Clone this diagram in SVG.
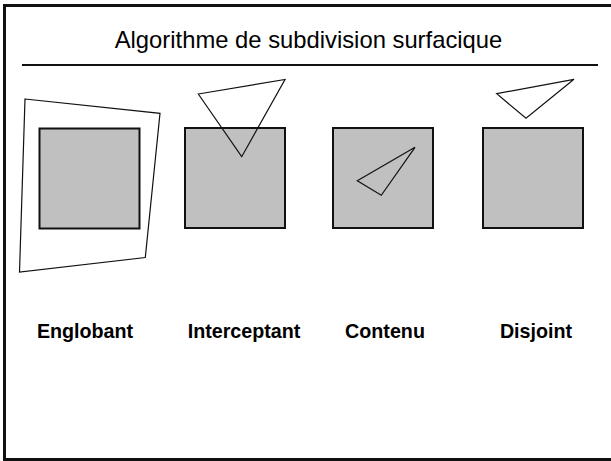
<svg xmlns="http://www.w3.org/2000/svg" width="611" height="461" viewBox="0 0 611 461">
<style>
.sq{fill:#c0c0c0;stroke:#111;stroke-width:2}
.poly{fill:none;stroke:#111;stroke-width:1.2;stroke-linejoin:miter}
.lbl{font-family:"Liberation Sans",Arial,sans-serif;font-weight:bold;font-size:19.7px;fill:#000;text-anchor:middle}
.title{font-family:"Liberation Sans",Arial,sans-serif;font-size:23.8px;fill:#000;text-anchor:middle}
</style>
<rect x="0" y="0" width="611" height="461" fill="#fff"/>
<path id="frame" d="M620,5.5 H4.5 V459.5 H620" fill="none" stroke="#111" stroke-width="3"/>
<g id="title">
<text class="title" x="308.5" y="48">Algorithme de subdivision surfacique</text>
<line x1="22" y1="65" x2="598" y2="65" stroke="#111" stroke-width="2"/>
</g>
<g id="englobant">
<rect class="sq" x="39.5" y="128.5" width="100" height="100"/>
<polygon class="poly" points="25,99 160,113.3 145.3,257.5 19.5,272"/>
<text class="lbl" x="85" y="338">Englobant</text>
</g>
<g id="interceptant">
<rect class="sq" x="185" y="128" width="100" height="100"/>
<polygon class="poly" points="198.3,94 285,79.5 241.7,156.7"/>
<text class="lbl" x="244" y="338">Interceptant</text>
</g>
<g id="contenu">
<rect class="sq" x="333" y="128" width="100" height="100"/>
<polygon class="poly" points="415,147.3 357.3,180.7 381.3,195.3"/>
<text class="lbl" x="385" y="338">Contenu</text>
</g>
<g id="disjoint">
<rect class="sq" x="483" y="128" width="100" height="100"/>
<polygon class="poly" points="574,79.3 496.7,93.7 526,118.3"/>
<text class="lbl" x="536" y="338">Disjoint</text>
</g>
<g id="connectors"/>
</svg>
